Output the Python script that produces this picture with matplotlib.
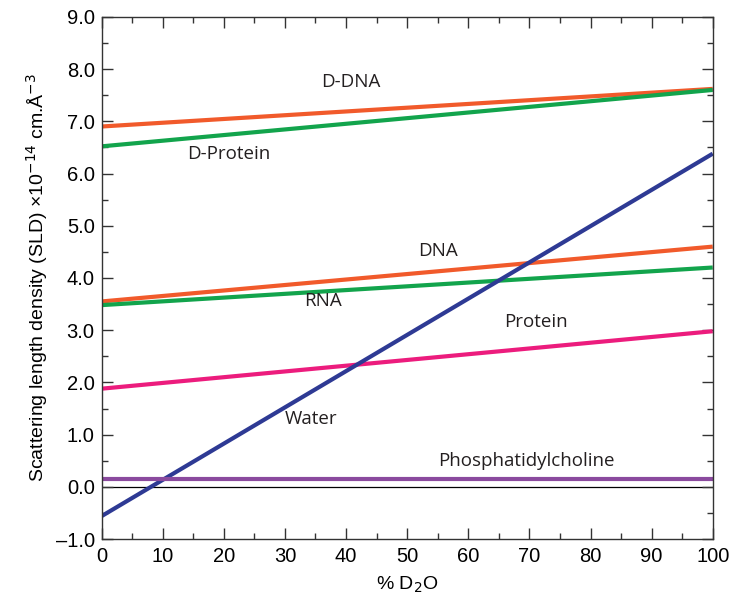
import matplotlib.pyplot as plt
from matplotlib.ticker import MultipleLocator, FuncFormatter

# % D2O at both ends of each line
d2o = [0, 100]

# SLD values (x10^-14 cm.A^-3) at 0% and 100% D2O
sld_d_dna = [6.90, 7.62]
sld_d_protein = [6.52, 7.60]
sld_dna = [3.55, 4.60]
sld_rna = [3.48, 4.20]
sld_protein = [1.88, 2.98]
sld_water = [-0.56, 6.38]
sld_pc = [0.15, 0.15]

series = [
    (sld_d_dna, '#f15a2b'),
    (sld_d_protein, '#12a44c'),
    (sld_dna, '#f15a2b'),
    (sld_rna, '#12a44c'),
    (sld_protein, '#ec1c7d'),
    (sld_water, '#2e3a94'),
    (sld_pc, '#8a4a9e'),
]

labels = ['D-DNA', 'D-Protein', 'DNA', 'RNA', 'Protein', 'Water', 'Phosphatidylcholine']
label_x = [40.8, 20.8, 55.0, 36.3, 71.1, 34.3, 69.5]
label_y = [7.76, 6.38, 4.51, 3.55, 3.15, 1.29, 0.50]

plt.rcParams['font.family'] = ['Liberation Sans', 'DejaVu Sans']
fig = plt.figure(figsize=(7.31, 6.01), dpi=100)
ax = fig.add_axes([0.139, 0.103, 0.836, 0.869])

ax.axhline(0, color='black', linewidth=0.9, zorder=1)
for vals, col in series:
    ax.plot(d2o, vals, color=col, linewidth=3, solid_capstyle='butt', zorder=2)

for txt, x, y in zip(labels, label_x, label_y):
    ax.text(x, y, txt, ha='center', va='center', fontsize=13.5,
            family=['Open Sans', 'DejaVu Sans'], color='#231f20')

ax.set_xlim(0, 100)
ax.set_ylim(-1, 9)
ax.xaxis.set_major_locator(MultipleLocator(10))
ax.xaxis.set_minor_locator(MultipleLocator(5))
ax.yaxis.set_major_locator(MultipleLocator(1))
ax.yaxis.set_minor_locator(MultipleLocator(0.5))
ax.yaxis.set_major_formatter(FuncFormatter(lambda v, p: ('%.1f' % v).replace('-', '\u2013')))
ax.tick_params(which='both', direction='in', top=True, right=True, labelsize=14.5, width=1, color='#333333')
ax.tick_params(which='major', length=8, pad=6)
ax.tick_params(axis='y', which='major', pad=5)
ax.tick_params(which='minor', length=4)
for s in ax.spines.values():
    s.set_linewidth(1)
    s.set_color('#333333')

ax.set_xlabel('% D$_2$O', fontsize=14, labelpad=6)
ax.set_ylabel('Scattering length density (SLD) \u00d710$^{-14}$ cm.\u00c5$^{-3}$', fontsize=14, labelpad=4)

plt.savefig('out.png', dpi=100)
